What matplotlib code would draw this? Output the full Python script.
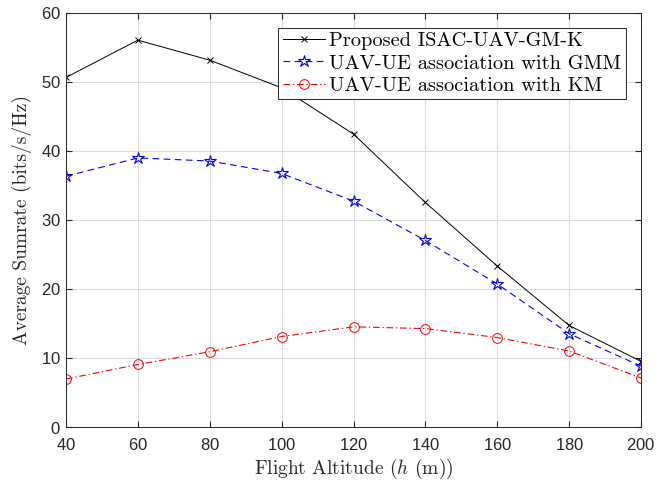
import matplotlib
matplotlib.use("Agg")
import matplotlib.pyplot as plt

# altitude (m)
altitudes = [40, 60, 80, 100, 120, 140, 160, 180, 200]

# average sumrate (bits/s/Hz)
proposed = [50.6, 56.0, 53.1, 49.1, 42.4, 32.5, 23.3, 14.7, 9.5]
gmm = [36.3, 38.95, 38.5, 36.7, 32.7, 27.0, 20.7, 13.5, 8.8]
km = [6.95, 9.05, 10.9, 13.1, 14.5, 14.25, 12.95, 11.0, 7.1]

labels = ["Proposed ISAC-UAV-GM-K",
          "UAV-UE association with GMM",
          "UAV-UE association with KM"]


def main():
    plt.rcParams["font.family"] = "serif"
    plt.rcParams["font.serif"] = ["cmr10"]
    plt.rcParams["mathtext.fontset"] = "cm"
    plt.rcParams["axes.formatter.use_mathtext"] = True

    fig = plt.figure(figsize=(6.72, 4.83), dpi=100)
    ax = fig.add_axes([0.0982, 0.1159, 0.8557, 0.8582])

    ax.plot(altitudes, proposed, color="k", lw=0.7, marker="x", ms=5,
            mew=0.7, label=labels[0])
    ax.plot(altitudes, gmm, color="b", lw=0.8, ls=(0, (6, 4)), marker="*",
            ms=9, mfc="none", mew=0.8, label=labels[1])
    ax.plot(altitudes, km, color="r", lw=0.8, ls=(0, (6, 2.5, 1.2, 2.5)),
            marker="o", ms=7, mfc="none", mew=0.7, label=labels[2])

    ax.set_xlim(40, 200)
    ax.set_ylim(0, 60)
    ax.set_xticks(range(40, 201, 20))
    ax.set_yticks(range(0, 61, 10))
    ax.grid(True, color="#dcdcdc", lw=0.8)
    ax.set_axisbelow(True)
    ax.tick_params(direction="in", top=True, right=True, labelsize=12,
                   color="#262626", labelcolor="#262626", length=4)
    ax.tick_params(axis="x", pad=7)
    ax.tick_params(axis="y", pad=4)
    for lab in ax.get_xticklabels() + ax.get_yticklabels():
        lab.set_fontfamily("Liberation Sans")
    for s in ax.spines.values():
        s.set_color("#262626")
        s.set_linewidth(0.7)

    ax.set_xlabel(r"Flight Altitude ($h$ (m))", fontsize=14, color="#262626",
                  labelpad=3)
    ax.set_ylabel("Average Sumrate (bits/s/Hz)", fontsize=14,
                  color="#262626", labelpad=6)

    leg = ax.legend(loc="upper right", fontsize=14.7, fancybox=False,
                    framealpha=1, edgecolor="#262626", handlelength=2.1,
                    borderpad=0.2, labelspacing=0.2, handletextpad=0.2,
                    borderaxespad=0.75)
    leg.get_frame().set_linewidth(0.7)

    fig.savefig("out.png", dpi=100)


if __name__ == "__main__":
    main()
